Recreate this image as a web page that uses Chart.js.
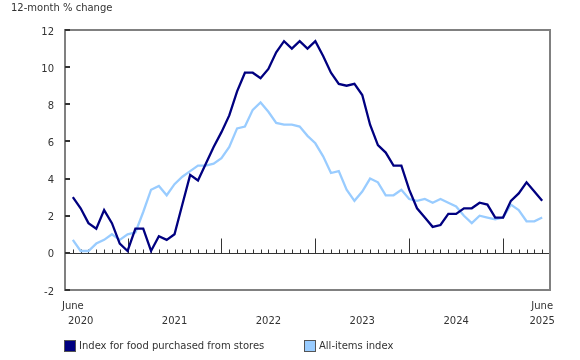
<!DOCTYPE html>
<html><head><meta charset="utf-8">
<script src="https://cdn.jsdelivr.net/npm/chart.js@4/dist/chart.umd.min.js"></script>
<style>
html,body{margin:0;padding:0;background:#fff;}
#wrap{position:relative;width:580px;height:360px;font-family:"DejaVu Sans",Verdana,sans-serif;font-size:10px;color:#333;}
#c{position:absolute;left:0;top:0;}
.t{position:absolute;white-space:nowrap;line-height:12px;}
.box{position:absolute;width:12px;height:12px;box-sizing:border-box;border:1px solid #555;}
</style></head><body>
<div id="wrap">
<canvas id="c" width="580" height="360"></canvas>
<div class="t" style="left:11px;top:2px;">12-month % change</div>
<div id="legend"></div>
</div>
<script>
const months = [
 "2020-06","2020-07","2020-08","2020-09","2020-10","2020-11","2020-12",
 "2021-01","2021-02","2021-03","2021-04","2021-05","2021-06","2021-07","2021-08","2021-09","2021-10","2021-11","2021-12",
 "2022-01","2022-02","2022-03","2022-04","2022-05","2022-06","2022-07","2022-08","2022-09","2022-10","2022-11","2022-12",
 "2023-01","2023-02","2023-03","2023-04","2023-05","2023-06","2023-07","2023-08","2023-09","2023-10","2023-11","2023-12",
 "2024-01","2024-02","2024-03","2024-04","2024-05","2024-06","2024-07","2024-08","2024-09","2024-10","2024-11","2024-12",
 "2025-01","2025-02","2025-03","2025-04","2025-05","2025-06"];
const foodStores = [
 3.0,2.4,1.6,1.3,2.3,1.6,0.5,
 0.1,1.3,1.3,0.1,0.9,0.7,1.0,2.6,4.2,3.9,4.8,5.7,
 6.5,7.4,8.7,9.7,9.7,9.4,9.9,10.8,11.4,11.0,11.4,11.0,
 11.4,10.6,9.7,9.1,9.0,9.1,8.5,6.9,5.8,5.4,4.7,4.7,
 3.4,2.4,1.9,1.4,1.5,2.1,2.1,2.4,2.4,2.7,2.6,1.9,
 1.9,2.8,3.2,3.8,3.3,2.8];
const allItems = [
 0.7,0.1,0.1,0.5,0.7,1.0,0.7,
 1.0,1.1,2.2,3.4,3.6,3.1,3.7,4.1,4.4,4.7,4.7,4.8,
 5.1,5.7,6.7,6.8,7.7,8.1,7.6,7.0,6.9,6.9,6.8,6.3,
 5.9,5.2,4.3,4.4,3.4,2.8,3.3,4.0,3.8,3.1,3.1,3.4,
 2.9,2.8,2.9,2.7,2.9,2.7,2.5,2.0,1.6,2.0,1.9,1.8,
 1.9,2.6,2.3,1.7,1.7,1.9];
const seriesNames = ["Index for food purchased from stores","All-items index"];
const seriesColors = ["#000080","#99ccff"];
const yTicks = [-2,0,2,4,6,8,10,12];
const xTickPos = [0,1,13,25,37,49,60];
const xTickLabels = [["June",""],["","2020"],["","2021"],["","2022"],["","2023"],["","2024"],["June","2025"]];

const FONT = "'DejaVu Sans', Verdana, sans-serif";

const decor = {
  id:'decor',
  beforeDatasetsDraw(chart){
    const {ctx, chartArea:a, scales:{x,y}} = chart;
    ctx.save();
    const y0 = Math.round(y.getPixelForValue(0)) + 0.5;
    ctx.strokeStyle = '#333'; ctx.lineWidth = 1;
    ctx.beginPath(); ctx.moveTo(a.left, y0); ctx.lineTo(a.right, y0); ctx.stroke();
    ctx.beginPath();
    months.forEach((m,i)=>{
      const px = Math.round(x.getPixelForValue(i)) + 0.5;
      const len = m.endsWith('-01') ? 15 : 4;
      ctx.moveTo(px, y0); ctx.lineTo(px, y0 - len);
    });
    ctx.stroke();
    ctx.restore();
  },
  afterDatasetsDraw(chart){
    const {ctx, chartArea:a, scales:{y}} = chart;
    ctx.save();
    ctx.strokeStyle = '#808080'; ctx.lineWidth = 2;
    ctx.strokeRect(a.left, a.top, a.right - a.left, a.bottom - a.top);
    ctx.strokeStyle = '#333'; ctx.lineWidth = 2;
    ctx.beginPath();
    yTicks.forEach(v=>{
      const py = Math.round(y.getPixelForValue(v));
      ctx.moveTo(a.left, py); ctx.lineTo(a.left + 5, py);
    });
    ctx.stroke();
    ctx.restore();
  }
};

new Chart(document.getElementById('c'), {
  type:'line',
  data:{
    datasets:[
      {label:seriesNames[1], data:allItems.map((v,i)=>({x:i,y:v})), borderColor:seriesColors[1], borderWidth:2.3, order:2},
      {label:seriesNames[0], data:foodStores.map((v,i)=>({x:i,y:v})), borderColor:seriesColors[0], borderWidth:2.3, order:1}
    ]
  },
  options:{
    responsive:false, animation:false, devicePixelRatio:1,
    layout:{padding:{left:0,right:30,top:30,bottom:0}},
    plugins:{legend:{display:false}, tooltip:{enabled:false}},
    elements:{point:{radius:0}, line:{tension:0, borderJoinStyle:'miter', borderCapStyle:'butt'}},
    scales:{
      x:{type:'linear', min:-1, max:61,
        afterBuildTicks:s=>{ s.ticks = xTickPos.map(v=>({value:v})); },
        afterFit:s=>{ s.height = 70; },
        grid:{display:false, drawTicks:false}, border:{display:false},
        ticks:{autoSkip:false, maxRotation:0, minRotation:0, padding:9.5, color:'#333',
          font:{family:FONT, size:10, lineHeight:1.43},
          callback:(v)=>{ const k = xTickPos.indexOf(v); return k >= 0 ? xTickLabels[k] : ''; }}
      },
      y:{min:-2, max:12,
        afterBuildTicks:s=>{ s.ticks = yTicks.map(v=>({value:v})); },
        afterFit:s=>{ s.width = 65; },
        grid:{display:false, drawTicks:false}, border:{display:false},
        ticks:{padding:11, color:'#333', font:{family:FONT, size:10, lineHeight:'4px'},
          callback:(v)=>['', String(v)]}
      }
    }
  },
  plugins:[decor]
});

const legendPos = [{box:64, text:79}, {box:304, text:319}];
const lg = document.getElementById('legend');
seriesNames.forEach((n,i)=>{
  const b = document.createElement('div');
  b.className = 'box'; b.style.left = legendPos[i].box + 'px'; b.style.top = '340px';
  b.style.background = seriesColors[i];
  lg.appendChild(b);
  const t = document.createElement('div');
  t.className = 't'; t.style.left = legendPos[i].text + 'px'; t.style.top = '340px';
  t.textContent = n;
  lg.appendChild(t);
});
</script>
</body></html>
